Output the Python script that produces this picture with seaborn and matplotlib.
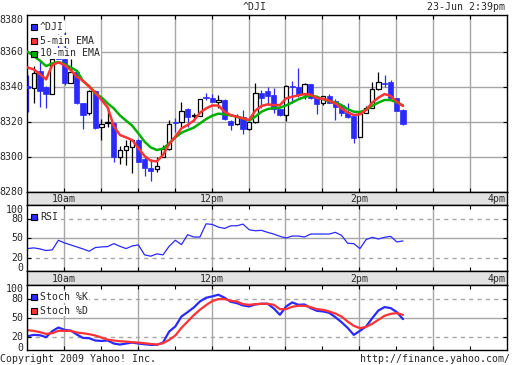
import pandas as pd
import matplotlib
matplotlib.use('Agg')
import matplotlib.pyplot as plt
import seaborn as sns
from matplotlib.patches import Rectangle
from matplotlib.transforms import IdentityTransform

sns.set_style('white')
plt.rcParams['font.family'] = ['DejaVu Sans Mono']
plt.rcParams['font.size'] = 7.1

# 5-minute bars, 23 Jun 2009
times = pd.date_range('2009-06-23 09:30', periods=62, freq='5min')
opens = [8340.4, 8339.0, 8349.0, 8340.0, 8335.8, 8362.0, 8355.6, 8342.3, 8348.2, 8330.5,
         8324.8, 8337.5, 8316.8, 8319.4, 8319.5, 8300.0, 8303.6, 8305.3, 8309.5, 8298.5,
         8293.5, 8292.8, 8300.0, 8304.2, 8320.0, 8320.0, 8327.2, 8323.2, 8323.2, 8334.3,
         8333.7, 8331.4, 8332.4, 8320.6, 8318.5, 8322.5, 8315.6, 8320.0, 8336.2, 8337.3,
         8335.2, 8327.2, 8323.8, 8340.4, 8340.0, 8335.8, 8341.5, 8334.0, 8330.9, 8334.5,
         8331.6, 8329.5, 8325.3, 8323.2, 8311.0, 8324.8, 8328.0, 8338.5, 8341.9, 8342.5,
         8333.3, 8326.7]
highs = [8346.7, 8352.0, 8355.0, 8340.2, 8360.0, 8370.0, 8371.0, 8356.0, 8349.5, 8330.9,
         8338.0, 8338.0, 8321.3, 8328.6, 8320.0, 8306.0, 8309.5, 8310.0, 8310.0, 8300.0,
         8298.5, 8300.0, 8306.5, 8321.0, 8322.0, 8331.0, 8328.0, 8325.0, 8333.1, 8336.6,
         8336.0, 8335.5, 8333.0, 8321.0, 8324.6, 8326.7, 8320.0, 8342.3, 8338.0, 8339.8,
         8339.0, 8327.5, 8341.0, 8343.3, 8350.5, 8342.0, 8341.5, 8334.0, 8334.5, 8335.8,
         8333.0, 8329.5, 8330.8, 8323.2, 8325.0, 8329.0, 8342.9, 8348.2, 8346.7, 8344.0,
         8333.5, 8327.0]
lows = [8325.7, 8330.5, 8328.6, 8328.0, 8335.8, 8356.0, 8341.0, 8342.3, 8330.0, 8315.6,
        8324.0, 8316.0, 8309.5, 8317.1, 8297.1, 8296.0, 8295.0, 8290.9, 8297.0, 8289.0,
        8286.0, 8291.0, 8300.0, 8304.0, 8314.3, 8317.0, 8317.0, 8320.4, 8323.0, 8332.2,
        8331.0, 8328.0, 8321.0, 8315.4, 8318.3, 8313.0, 8315.0, 8319.4, 8327.6, 8329.5,
        8324.8, 8323.0, 8320.4, 8330.5, 8334.0, 8333.0, 8333.0, 8324.4, 8329.8, 8330.5,
        8321.0, 8323.2, 8322.0, 8307.6, 8311.0, 8324.8, 8327.6, 8338.0, 8340.0, 8333.0,
        8326.0, 8318.0]
closes = [8339.0, 8347.6, 8337.7, 8335.8, 8355.6, 8356.0, 8342.3, 8348.6, 8330.5, 8323.8,
          8337.5, 8316.6, 8318.5, 8319.6, 8300.0, 8303.8, 8306.1, 8309.5, 8297.1, 8293.3,
          8292.0, 8294.7, 8304.2, 8318.5, 8319.0, 8326.3, 8322.7, 8323.6, 8333.1, 8333.5,
          8331.4, 8332.4, 8321.7, 8318.3, 8322.5, 8315.6, 8320.0, 8336.2, 8333.3, 8334.9,
          8327.2, 8323.8, 8340.5, 8339.6, 8335.2, 8341.5, 8333.3, 8330.3, 8334.5, 8330.7,
          8328.6, 8325.1, 8322.9, 8310.9, 8324.8, 8327.6, 8338.5, 8342.5, 8341.5, 8333.3,
          8326.3, 8318.7]
ema5 = [8351.0, 8349.9, 8347.2, 8344.2, 8352.4, 8353.9, 8352.4, 8349.5, 8345.7, 8343.4,
        8340.0, 8336.6, 8332.4, 8328.2, 8317.5, 8312.4, 8311.0, 8309.5, 8304.8, 8300.4,
        8297.7, 8297.3, 8301.0, 8307.2, 8311.4, 8316.2, 8318.1, 8320.6, 8325.1, 8327.6,
        8329.3, 8329.2, 8325.7, 8323.8, 8322.9, 8321.9, 8321.0, 8326.3, 8329.0, 8329.9,
        8329.5, 8329.5, 8333.3, 8334.3, 8335.0, 8335.8, 8335.4, 8333.5, 8333.1, 8332.0,
        8330.5, 8327.6, 8325.3, 8323.8, 8324.2, 8326.7, 8330.9, 8333.7, 8335.8, 8334.7,
        8331.4, 8329.0]
ema10 = [8360.0, 8357.5, 8354.9, 8351.8, 8353.3, 8354.1, 8353.0, 8351.0, 8349.1, 8343.2,
         8340.4, 8336.2, 8333.9, 8330.5, 8327.6, 8323.6, 8320.6, 8317.7, 8313.3, 8308.6,
         8305.3, 8303.8, 8304.6, 8307.6, 8311.0, 8313.7, 8315.2, 8316.6, 8319.0, 8321.5,
         8323.4, 8324.6, 8324.2, 8323.6, 8322.9, 8321.9, 8320.6, 8322.9, 8325.7, 8327.2,
         8327.8, 8328.0, 8329.3, 8331.0, 8332.8, 8334.1, 8334.9, 8334.3, 8332.8, 8331.8,
         8331.0, 8329.5, 8327.2, 8325.7, 8325.5, 8326.7, 8329.1, 8330.9, 8332.4, 8332.4,
         8331.0, 8329.3]
rsi = [34.3, 35.4, 33.8, 31.3, 32.3, 47.2, 43.1, 40.0, 36.9, 33.8,
       30.2, 35.9, 36.9, 37.4, 42.0, 37.9, 34.3, 38.4, 40.0, 24.6,
       22.5, 26.1, 24.6, 37.9, 47.2, 40.5, 55.9, 52.3, 52.3, 72.8,
       71.8, 67.7, 65.6, 69.7, 69.7, 72.3, 63.6, 62.0, 62.6, 59.5,
       56.9, 53.3, 50.8, 53.8, 53.8, 52.3, 56.9, 56.9, 56.9, 56.9,
       59.5, 54.9, 42.6, 42.0, 34.3, 48.2, 51.8, 49.2, 51.8, 53.3,
       44.6, 46.2]
stoch_k = [21.5, 23.6, 23.1, 20.0, 29.4, 35.1, 31.5, 30.4, 24.1, 18.9,
           18.4, 14.8, 14.2, 14.8, 10.1, 8.5, 10.1, 11.6, 10.1, 9.0,
           8.0, 8.0, 11.6, 28.8, 36.7, 52.3, 59.1, 66.4, 75.8, 81.6,
           83.7, 86.3, 81.6, 75.3, 73.2, 69.6, 68.0, 71.1, 72.2, 72.2,
           64.9, 54.9, 68.0, 74.3, 70.6, 71.1, 65.4, 61.2, 60.2, 58.1,
           51.3, 43.5, 34.6, 23.6, 29.9, 36.7, 49.7, 61.7, 67.0, 65.4,
           59.1, 48.2]
stoch_d = [30.9, 29.9, 27.8, 25.2, 26.2, 29.9, 29.9, 29.9, 27.3, 26.2,
           24.7, 22.6, 19.4, 16.3, 14.8, 13.7, 13.2, 12.1, 11.6, 10.6,
           9.5, 8.5, 10.6, 15.8, 22.6, 34.6, 44.5, 54.4, 62.8, 70.1,
           76.3, 79.5, 79.5, 76.9, 75.8, 71.6, 70.6, 71.6, 72.2, 72.2,
           70.6, 63.8, 63.8, 67.5, 69.0, 69.0, 67.0, 63.8, 62.8, 60.2,
           57.0, 52.3, 44.5, 37.7, 34.1, 36.2, 40.9, 47.1, 53.4, 56.5,
           57.6, 54.9]

df = pd.DataFrame({'time': times, 'open': opens, 'high': highs, 'low': lows,
                   'close': closes, 'ema5': ema5, 'ema10': ema10, 'rsi': rsi,
                   'k': stoch_k, 'd': stoch_d})
# minutes after the 9:30 open
df['x'] = (df['time'] - times[0]).dt.total_seconds() / 60 + 0.5

BLUE = '#2a2aff'
RED = '#ff3333'
GREEN = '#00b000'
GRID = '#a6a6a6'
BAND = '#e2e2e2'

W, H = 512, 365
fig = plt.figure(figsize=(W / 100, H / 100), dpi=100)


def box(top, bottom):
    return [27 / W, 1 - bottom / H, 480 / W, (bottom - top) / H]


ax = fig.add_axes(box(15, 192))
band1 = fig.add_axes(box(192, 205))
ax_rsi = fig.add_axes(box(205, 271))
band2 = fig.add_axes(box(271, 285))
ax_st = fig.add_axes(box(285, 350))

for a in [ax, band1, ax_rsi, band2, ax_st]:
    a.set_xlim(0, 390)
    for s in a.spines.values():
        s.set_color('black')
        s.set_linewidth(1.0)

# main price panel
ax.set_ylim(8279.8, 8381)
for m in range(30, 390, 30):
    ax.axvline(m, color=GRID, lw=1.0, zorder=0)
for v in [8300, 8320, 8340, 8360]:
    ax.axhline(v, color=GRID, lw=1.0, zorder=0)

up = df['close'] >= df['open']
wick_col = ['black' if u else BLUE for u in up]
ax.vlines(df['x'], df['low'], df['high'], colors=wick_col, lw=0.9, zorder=2)
body_bottom = df[['open', 'close']].min(axis=1)
body_h = (df['close'] - df['open']).abs().clip(lower=0.15)
ax.bar(df['x'][up], body_h[up], bottom=body_bottom[up], width=3.6,
       color='white', edgecolor='black', lw=0.9, zorder=3)
ax.bar(df['x'][~up], body_h[~up], bottom=body_bottom[~up], width=4.2,
       color=BLUE, edgecolor=BLUE, lw=0.5, zorder=3)

sns.lineplot(data=df, x='x', y='ema10', ax=ax, color=GREEN, lw=1.8, zorder=4)
sns.lineplot(data=df, x='x', y='ema5', ax=ax, color=RED, lw=1.8, zorder=4)


def ylabels(a, vals, nudges):
    for v, dy in zip(vals, nudges):
        a.annotate(str(v), xy=(0, v), xycoords=('axes fraction', 'data'),
                   xytext=(-3.5, dy), textcoords='offset pixels',
                   ha='right', va='center')


ylabels(ax, [8280, 8300, 8320, 8340, 8360, 8380], [0, 0, 0, 0, 0, -3.5])

# RSI panel
ax_rsi.set_ylim(-0.5, 102)
for m in range(30, 390, 60):
    ax_rsi.axvline(m, color=GRID, lw=1.0, zorder=0)
ax_rsi.axhline(50, color=GRID, lw=1.0, zorder=0)
for v in [20, 80]:
    ax_rsi.axhline(v, color=GRID, lw=1.0, ls=(0, (3, 3)), zorder=0)
sns.lineplot(data=df, x='x', y='rsi', ax=ax_rsi, color=BLUE, lw=0.9)
ylabels(ax_rsi, [0, 20, 50, 80, 100], [2.5, 0, 0, 0, -3.5])

# stochastic panel
ax_st.set_ylim(0, 101.5)
for m in range(30, 390, 60):
    ax_st.axvline(m, color=GRID, lw=1.0, zorder=0)
ax_st.axhline(50, color=GRID, lw=1.0, zorder=0)
for v in [20, 80]:
    ax_st.axhline(v, color=GRID, lw=1.0, ls=(0, (3, 3)), zorder=0)
sns.lineplot(data=df, x='x', y='k', ax=ax_st, color=BLUE, lw=1.6)
sns.lineplot(data=df, x='x', y='d', ax=ax_st, color=RED, lw=1.6)
ylabels(ax_st, [0, 20, 50, 80, 100], [2.0, 0, 0, 0, -3.0])

# small inward ticks on panel borders
ax.set_yticks([8300, 8320, 8340, 8360])
for a in [ax_rsi, ax_st]:
    a.set_yticks([20, 50, 80])
for a in [ax, ax_rsi, ax_st]:
    a.set_xlabel('')
    a.set_ylabel('')
    a.set_xticks(range(30, 390, 30))
    a.tick_params(direction='in', length=3, width=0.8, color='black',
                  top=True, bottom=True, left=True, right=True,
                  labelbottom=False, labelleft=False)

# time bands
for b in [band1, band2]:
    b.set_facecolor(BAND)
    b.set_ylim(0, 1)
    b.set_xticks([])
    b.set_yticks([])
    for lab, m in [('10am', 30), ('12pm', 150), ('2pm', 270)]:
        b.text(m, 0.45, lab, ha='center', va='center')
    b.text(389, 0.45, '4pm', ha='right', va='center')


# legends
def legend_item(y_img, color, label):
    fig.add_artist(Rectangle((31, H - y_img - 3), 6, 6, transform=IdentityTransform(),
                             facecolor=color, edgecolor='black', lw=0.8, zorder=10))
    fig.text(40 / W, 1 - y_img / H, label, ha='left', va='center', zorder=10,
             bbox=dict(facecolor='white', edgecolor='none', pad=0.4))


legend_item(27, BLUE, '^DJI')
legend_item(40.5, RED, '5-min EMA')
legend_item(53.5, GREEN, '10-min EMA')
legend_item(217, BLUE, 'RSI')
legend_item(297, BLUE, 'Stoch %K')
legend_item(310.5, RED, 'Stoch %D')

fig.text(255 / W, 1 - 6.5 / H, '^DJI', ha='center', va='center')
fig.text(505 / W, 1 - 6.5 / H, '23-Jun 2:39pm', ha='right', va='center')
fig.text(0, 1 - 359 / H, 'Copyright 2009 Yahoo! Inc.', ha='left', va='center')
fig.text(510 / W, 1 - 359 / H, 'http://finance.yahoo.com/', ha='right', va='center')

fig.savefig('out.png', dpi=100)
